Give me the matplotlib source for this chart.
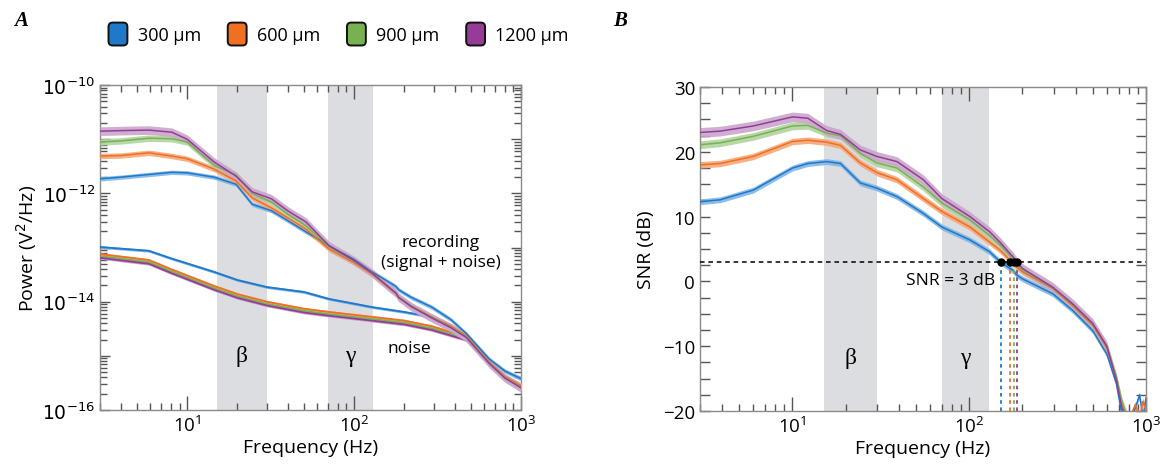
import matplotlib
matplotlib.use("Agg")
import matplotlib.pyplot as plt
import numpy as np
from matplotlib.patches import Patch, FancyBboxPatch
from matplotlib.legend_handler import HandlerPatch
from matplotlib.ticker import LogLocator, MultipleLocator, FuncFormatter, NullFormatter

plt.rcParams['font.family'] = ['Open Sans', 'DejaVu Sans']

labels = ['300 \u03bcm', '600 \u03bcm', '900 \u03bcm', '1200 \u03bcm']
colors = ['#1f78c8', '#f07021', '#78b152', '#963c96']
band_colors = ['#7fb6e6', '#f6a87a', '#b3d49e', '#c9a6cc']

# panel A : log10 power of recording (signal + noise)
f_rec = [3, 4, 5.9, 8.1, 10, 14.5, 19.6, 24.5, 32, 40, 51.6, 71, 100, 128, 170, 178, 185, 220, 292, 380, 470, 645, 800, 1000]
rec = [
    [-11.73, -11.70, -11.65, -11.61, -11.62, -11.70, -11.83, -12.20, -12.32, -12.50, -12.71, -12.97, -13.22, -13.45, -13.68, -13.72, -13.78, -13.92, -14.10, -14.33, -14.59, -15.06, -15.28, -15.42],
    [-11.31, -11.30, -11.25, -11.31, -11.36, -11.55, -11.77, -12.08, -12.27, -12.45, -12.66, -13.03, -13.28, -13.49, -13.80, -13.84, -13.92, -14.08, -14.28, -14.45, -14.63, -15.11, -15.38, -15.55],
    [-11.05, -11.03, -10.98, -10.99, -11.05, -11.48, -11.66, -12.00, -12.16, -12.38, -12.60, -12.99, -13.25, -13.47, -13.79, -13.84, -13.92, -14.08, -14.29, -14.47, -14.65, -15.13, -15.40, -15.58],
    [-10.85, -10.84, -10.83, -10.87, -11.00, -11.42, -11.68, -11.97, -12.10, -12.32, -12.53, -12.97, -13.24, -13.47, -13.79, -13.84, -13.92, -14.09, -14.30, -14.48, -14.66, -15.14, -15.41, -15.59],
]
rec_sem = [0.04, 0.05, 0.06, 0.08]

# panel A : log10 power of noise
f_noise = [3, 5.9, 8, 14.5, 20, 30, 50, 71, 128, 200, 290, 470, 645, 800, 1000]
noise = [
    [-12.99, -13.06, -13.20, -13.45, -13.60, -13.73, -13.82, -13.95, -14.10, -14.19, -14.28, -14.59, -15.06, -15.28, -15.42],
    [-13.12, -13.23, -13.40, -13.71, -13.86, -14.00, -14.13, -14.19, -14.28, -14.35, -14.45, -14.65, -15.11, -15.38, -15.55],
    [-13.16, -13.27, -13.44, -13.75, -13.90, -14.04, -14.17, -14.23, -14.32, -14.39, -14.49, -14.68, -15.13, -15.40, -15.58],
    [-13.19, -13.30, -13.47, -13.78, -13.93, -14.07, -14.20, -14.26, -14.35, -14.42, -14.52, -14.71, -15.15, -15.42, -15.60],
]

# panel B : SNR (dB)
f_snr = [3, 3.9, 6, 10, 12.2, 15.6, 18.7, 24.2, 30, 39, 55, 70, 101, 130, 150, 170, 177, 185, 200, 297, 386, 500, 600, 680, 730, 800, 870, 920, 960, 1000]
snr = [
    [12.3, 12.6, 14.1, 17.5, 18.2, 18.5, 18.2, 15.2, 14.4, 13.1, 10.5, 8.4, 6.4, 4.6, 3.0, 2.0, 1.7, 1.0, 0.4, -1.9, -4.5, -7.6, -11.2, -15.8, -20.5, -22, -19.5, -17.5, -21, -18],
    [18.0, 18.2, 19.3, 21.6, 21.8, 21.5, 21.0, 18.3, 16.8, 15.7, 12.8, 10.8, 8.4, 6.1, 4.8, 3.3, 2.8, 2.2, 1.5, -1.1, -3.8, -6.8, -10.3, -15.0, -19.0, -21.5, -19.0, -21, -18.5, -20],
    [21.1, 21.4, 22.4, 24.0, 24.1, 22.9, 22.5, 19.8, 18.3, 17.5, 14.6, 12.1, 9.5, 7.1, 5.6, 4.0, 3.3, 2.5, 1.8, -1.0, -3.6, -6.6, -10.0, -14.8, -18.5, -21.5, -20.5, -22, -21, -20],
    [23.0, 23.2, 24.0, 25.4, 25.2, 23.3, 22.7, 20.3, 19.3, 18.5, 15.7, 12.8, 10.0, 7.7, 6.0, 4.3, 3.8, 3.0, 2.0, -0.9, -3.5, -6.5, -10.0, -15.2, -19.5, -22, -21, -22, -21, -21],
]
snr_sem = [0.45, 0.5, 0.6, 0.75]
f_cross = [151, 169, 178, 186]
snr_thresh = 3

bands = [(15, 30), (70, 130)]
band_names = ['\u03b2', '\u03b3']


class HandlerRound(HandlerPatch):
    def create_artists(self, legend, orig_handle, xdescent, ydescent, width, height, fontsize, trans):
        p = FancyBboxPatch((-xdescent + 1, -ydescent - 2), width - 2, height + 4,
                           boxstyle="round,pad=0,rounding_size=3",
                           facecolor=orig_handle.get_facecolor(), edgecolor='#111111', lw=1.4,
                           transform=trans)
        return [p]


def style_axes(ax):
    ax.set_xscale('log')
    ax.set_xlim(3, 1000)
    for s in ax.spines.values():
        s.set_color('#8a8a8a')
        s.set_linewidth(1.0)
    ax.tick_params(which='both', direction='in', top=True, right=True, color='#555555', labelsize=13.5)
    ax.tick_params(which='major', length=10, width=1.0)
    ax.tick_params(which='minor', length=5, width=1.0)
    ax.tick_params(axis='y', which='major', length=7)
    ax.xaxis.set_major_locator(LogLocator(base=10, numticks=10))
    ax.xaxis.set_minor_locator(LogLocator(base=10, subs=np.arange(2, 10), numticks=20))
    ax.xaxis.set_minor_formatter(NullFormatter())
    ax.set_xlabel('Frequency (Hz)', fontsize=14, labelpad=2)
    for lo, hi in bands:
        ax.axvspan(lo, hi, color='#dcdde0', lw=0, zorder=0)


fig = plt.figure(figsize=(11.65, 4.77), dpi=100)
axA = fig.add_axes([0.0858, 0.1384, 0.3614, 0.681])
axB = fig.add_axes([0.6009, 0.1363, 0.3828, 0.679])

# ---- panel A
style_axes(axA)
axA.set_yscale('log')
axA.set_ylim(1e-16, 1e-10)
axA.yaxis.set_major_locator(LogLocator(base=10, numticks=10))
axA.yaxis.set_minor_locator(LogLocator(base=10, subs=np.arange(2, 10), numticks=20))
axA.yaxis.set_minor_formatter(NullFormatter())
axA.yaxis.set_major_formatter(FuncFormatter(
    lambda v, p: r'$10^{%d}$' % round(np.log10(v)) if round(np.log10(v)) % 2 == 0 else ''))
axA.set_ylabel('Power (V$^2$/Hz)', fontsize=14, labelpad=2)

for i in range(4):
    y = np.array(noise[i])
    axA.fill_between(f_noise, 10 ** (y - 0.025), 10 ** (y + 0.025), color=band_colors[i], lw=0, zorder=2)
    axA.plot(f_noise, 10 ** y, color=colors[i], lw=1.3, zorder=3)
for i in range(4):
    y = np.array(rec[i])
    axA.fill_between(f_rec, 10 ** (y - rec_sem[i]), 10 ** (y + rec_sem[i]), color=band_colors[i], lw=0, zorder=4, alpha=0.9)
    axA.plot(f_rec, 10 ** y, color=colors[i], lw=1.1, zorder=5)

for (lo, hi), name in zip(bands, band_names):
    axA.text(np.sqrt(lo * hi), 1e-15, name, family='Liberation Serif', fontsize=17, ha='center', va='center')
axA.text(330, 10 ** -13.08, 'recording\n(signal + noise)', fontsize=12.5, ha='center', va='center', linespacing=1.3)
axA.text(213, 10 ** -14.85, 'noise', fontsize=12.5, ha='center', va='center')

# ---- panel B
style_axes(axB)
axB.set_ylim(-20, 30)
axB.yaxis.set_major_locator(MultipleLocator(10))
axB.yaxis.set_minor_locator(MultipleLocator(2.5))
axB.tick_params(axis='y', which='both', length=7)
axB.set_ylabel('SNR (dB)', fontsize=14, labelpad=6)

for i in range(4):
    y = np.array(snr[i])
    axB.fill_between(f_snr, y - snr_sem[i], y + snr_sem[i], color=band_colors[i], lw=0, zorder=2, alpha=0.9)
    axB.plot(f_snr, y, color=colors[i], lw=1.1, zorder=3)

axB.axhline(snr_thresh, color='black', ls=(0, (3, 2.5)), lw=1.1, zorder=4)
for i in range(4):
    axB.plot([f_cross[i], f_cross[i]], [-20, snr_thresh], color=colors[i], ls=(0, (2, 2)), lw=1.3, zorder=4)
axB.plot(f_cross, [snr_thresh] * 4, 'o', color='black', ms=5, zorder=5)
axB.plot(f_cross[1:], [snr_thresh] * 3, color='black', lw=4, zorder=5)
axB.text(140, 0.2, 'SNR = 3 dB', fontsize=12.5, ha='right', va='center')

for (lo, hi), name in zip(bands, band_names):
    axB.text(np.sqrt(lo * hi), -11.7, name, family='Liberation Serif', fontsize=17, ha='center', va='center')

# ---- panel letters & legend
fig.text(0.012, 0.955, 'A', family='Liberation Serif', fontsize=15, fontweight='bold', fontstyle='italic', va='center')
fig.text(0.526, 0.955, 'B', family='Liberation Serif', fontsize=15, fontweight='bold', fontstyle='italic', va='center')

handles = [Patch(facecolor=c) for c in colors]
fig.legend(handles, labels, loc='center left', bbox_to_anchor=(0.078, 0.925), ncol=4, frameon=False,
           fontsize=13, handlelength=1.2, handleheight=1.1, handletextpad=0.5, columnspacing=1.4,
           handler_map={Patch: HandlerRound()})

fig.savefig('out.png', dpi=100)
